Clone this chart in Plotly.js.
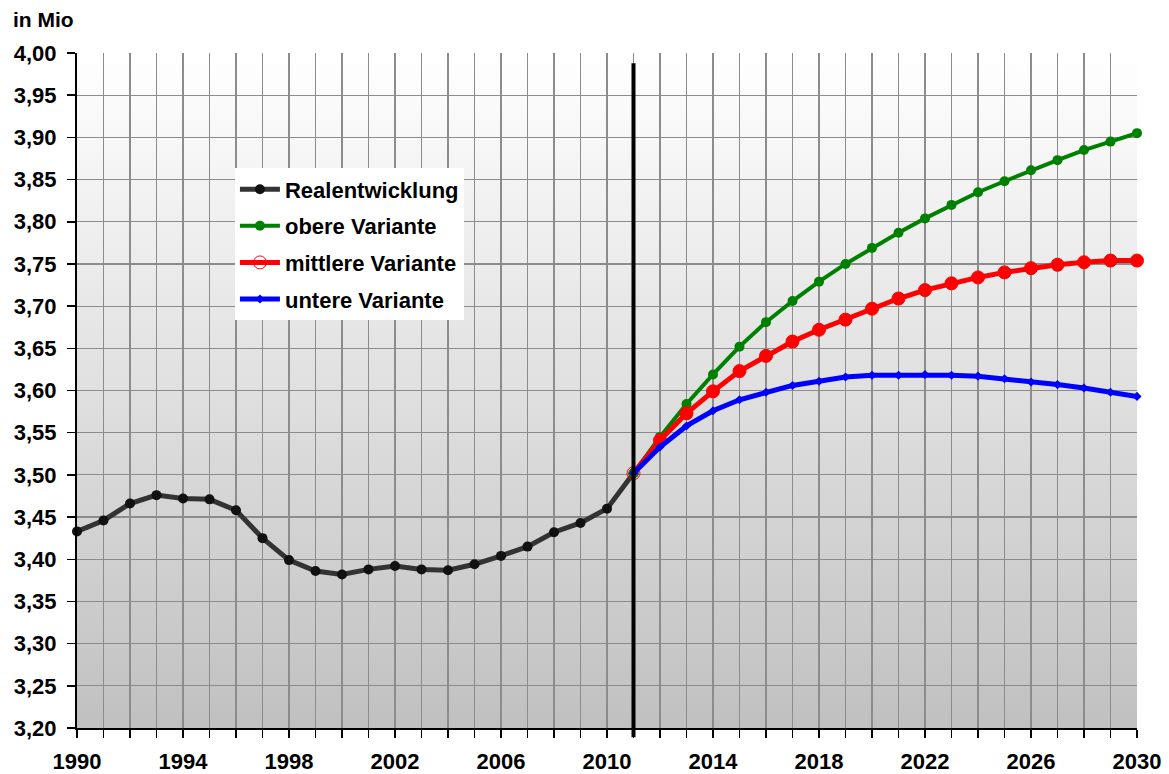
<!DOCTYPE html>
<html>
<head>
<meta charset="utf-8">
<script src="https://cdn.plot.ly/plotly-3.0.1.min.js"></script>
<style>html,body{margin:0;padding:0;background:#fff;}#chart{width:1169px;height:774px;}</style>
</head>
<body>
<div id="chart"></div>
<script>
const yearsReal = [1990,1991,1992,1993,1994,1995,1996,1997,1998,1999,2000,2001,2002,2003,2004,2005,2006,2007,2008,2009,2010,2011];
const valuesReal = [3.433,3.446,3.466,3.476,3.472,3.471,3.458,3.425,3.399,3.386,3.382,3.388,3.392,3.388,3.387,3.394,3.404,3.415,3.432,3.443,3.460,3.502];

const yearsForecast = [2011,2012,2013,2014,2015,2016,2017,2018,2019,2020,2021,2022,2023,2024,2025,2026,2027,2028,2029,2030];
const valuesUpper = [3.502,3.545,3.584,3.619,3.652,3.681,3.706,3.729,3.750,3.769,3.787,3.804,3.820,3.835,3.848,3.861,3.873,3.885,3.895,3.905];
const valuesMiddle = [3.502,3.541,3.573,3.599,3.623,3.641,3.658,3.672,3.684,3.697,3.709,3.719,3.727,3.734,3.740,3.745,3.749,3.752,3.754,3.754];
const valuesLower = [3.502,3.533,3.558,3.576,3.589,3.598,3.606,3.611,3.616,3.618,3.618,3.619,3.618,3.617,3.614,3.610,3.607,3.603,3.598,3.593];

const seriesNames = ['Realentwicklung','obere Variante','mittlere Variante','untere Variante'];
const xTickVals = [1990,1994,1998,2002,2006,2010,2014,2018,2022,2026,2030];
const yTickVals = [3.20,3.25,3.30,3.35,3.40,3.45,3.50,3.55,3.60,3.65,3.70,3.75,3.80,3.85,3.90,3.95,4.00];
const yTickText = yTickVals.map(v => v.toFixed(2).replace('.', ','));
const splitYear = 2011;

const font = 'Liberation Sans, Arial, sans-serif';

const middleSymbols = yearsForecast.map((y,i) => i === 0 ? 'circle-open' : 'circle');

const traces = [
  {x: yearsReal, y: valuesReal, name: seriesNames[0], legendgroup:'a', mode:'lines+markers',
   line:{color:'#333333', width:5}, marker:{color:'#111111', size:10, symbol:'circle', opacity:1}, cliponaxis:false},
  {x: yearsForecast, y: valuesUpper, name: seriesNames[1], legendgroup:'b', mode:'lines+markers',
   line:{color:'#008000', width:4}, marker:{color:'#008000', size:10, opacity:1}, cliponaxis:false},
  {x: yearsForecast, y: valuesMiddle, name: seriesNames[2], legendgroup:'c', mode:'lines+markers',
   line:{color:'#ff0000', width:5}, marker:{color:'#ff0000', size:13, symbol:middleSymbols, opacity:1, line:{color:'#ff0000', width:1}}, cliponaxis:false},
  {x: yearsForecast, y: valuesLower, name: seriesNames[3], legendgroup:'d', mode:'lines+markers',
   line:{color:'#0000ff', width:5}, marker:{color:'#0000ff', size:7, symbol:'diamond', opacity:1}, cliponaxis:false}
];

const gradSvg = '<svg xmlns="http://www.w3.org/2000/svg" width="100" height="100" preserveAspectRatio="none"><defs><linearGradient id="g" x1="0" y1="0" x2="0" y2="1"><stop offset="0" stop-color="#ffffff"/><stop offset="1" stop-color="#c0c0c0"/></linearGradient></defs><rect width="100" height="100" fill="url(#g)"/></svg>';

const layout = {
  width:1169, height:774,
  margin:{l:77, r:32, t:53, b:46},
  paper_bgcolor:'#ffffff',
  plot_bgcolor:'rgba(0,0,0,0)',
  showlegend:true,
  legend:{x:0.149, y:0.829, xanchor:'left', yanchor:'top', bgcolor:'#ffffff', borderwidth:0,
          font:{family:font, size:22, color:'#000000', weight:'bold'}, tracegroupgap:5, itemwidth:40},
  font:{family:font, color:'#000000'},
  images:[{source:'data:image/svg+xml;charset=utf-8,' + encodeURIComponent(gradSvg),
           xref:'paper', yref:'paper', x:0, y:1, sizex:1, sizey:1, sizing:'stretch', layer:'below', xanchor:'left', yanchor:'top'}],
  xaxis:{range:[1990,2030], tickvals:xTickVals, ticktext:xTickVals.map(String), ticks:'outside', ticklen:8, tickcolor:'#000', tickwidth:1.5,
         showgrid:true, gridcolor:'#8c8c8c', gridwidth:1.2, showline:true, linecolor:'#000', linewidth:2, zeroline:false,
         ticklabelstandoff:5,
         minor:{dtick:1, tick0:1990, showgrid:true, gridcolor:'#8c8c8c', gridwidth:1.2, ticks:'outside', ticklen:8, tickcolor:'#000', tickwidth:1.5},
         tickfont:{family:font, size:22, color:'#000', weight:'bold'}, fixedrange:true},
  yaxis:{range:[3.20,4.00], tickvals:yTickVals, ticktext:yTickText, ticks:'outside', ticklen:8, tickcolor:'#000', tickwidth:1.5,
         showgrid:true, gridcolor:'#8c8c8c', gridwidth:1.2, showline:true, linecolor:'#000', linewidth:2, zeroline:false,
         ticklabelstandoff:6,
         tickfont:{family:font, size:22, color:'#000', weight:'bold'}, fixedrange:true},
  shapes:[{type:'line', xref:'x', yref:'paper', x0:splitYear, x1:splitYear, y0:-0.0138, y1:0.985, line:{color:'#000000', width:4}}],
  annotations:[{text:'in Mio', xref:'paper', yref:'paper', x:-0.062, y:1.03, xanchor:'left', yanchor:'bottom', showarrow:false,
                font:{family:font, size:21, color:'#000', weight:'bold'}}]
};

Plotly.newPlot('chart', traces, layout, {displayModeBar:false, staticPlot:true});
</script>
</body>
</html>
